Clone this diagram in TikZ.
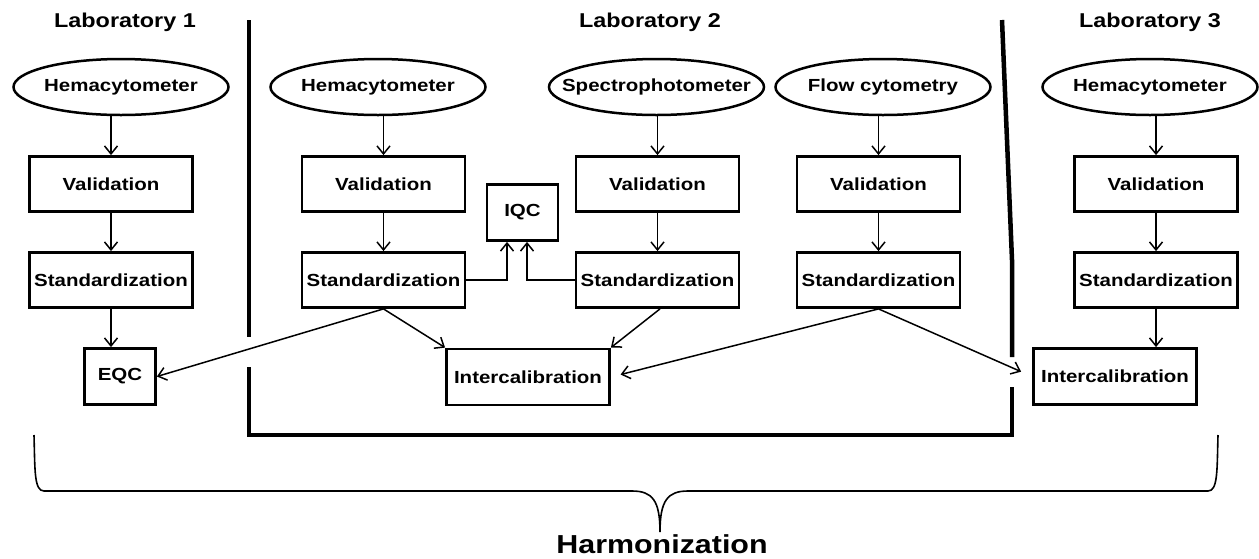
\documentclass[tikz,border=0pt]{standalone}
\usepackage{fontspec}
\setmainfont{Liberation Sans}[FakeStretch=1.17]
\usetikzlibrary{shapes.geometric,arrows.meta}
\begin{document}
\begin{tikzpicture}[x=1pt,y=-1pt,
  boxtext/.style={font=\bfseries\fontsize{17.5}{20}\selectfont},
  stepbox/.style={boxtext,draw,line width=2.8pt,inner sep=0pt,minimum width=163pt,minimum height=55pt},
  smallbox/.style={boxtext,draw,line width=2.8pt,inner sep=0pt,minimum width=71pt,minimum height=56pt},
  instr/.style={boxtext,ellipse,draw,line width=2.5pt,inner sep=0pt,minimum width=215pt,minimum height=56pt},
  labtitle/.style={font=\bfseries\fontsize{20}{24}\selectfont,anchor=base},
  conn/.style={line width=1.5pt,-{Straight Barb[length=8pt,width=13pt,line width=1.5pt]}},
  sepline/.style={line width=4.5pt},
  bracel/.style={line width=1.6pt}]
\useasboundingbox (0,0) rectangle (1259,558);
\fill[white] (0,0) rectangle (1259,558);

% titles
\node[labtitle] (t1) at (125,27) {Laboratory 1};
\node[labtitle] (t2) at (650,27) {Laboratory 2};
\node[labtitle] (t3) at (1150,27) {Laboratory 3};

% Laboratory 1
\node[instr] (hema1) at (121,87) {\makebox[0pt]{Hemacytometer}};
\node[stepbox] (val1) at (111,184) {Validation};
\node[stepbox] (std1) at (111,280) {Standardization};
\node[smallbox] (eqc) at (120,376.5) {EQC};

% Laboratory 2
\node[instr] (hema2) at (378,87) {\makebox[0pt]{Hemacytometer}};
\node[stepbox] (val2) at (383.5,184) {Validation};
\node[stepbox] (std2) at (383.5,280) {Standardization};

\node[instr] (spec) at (656.5,87) {\makebox[0pt]{Spectrophotometer}};
\node[stepbox] (val3) at (657.5,184) {Validation};
\node[stepbox] (std3) at (657.5,280) {Standardization};

\node[smallbox] (iqc) at (522.5,212.5) {IQC};

\node[instr] (flow) at (883,87) {\makebox[0pt]{Flow cytometry}};
\node[stepbox] (val4) at (878.5,184) {Validation};
\node[stepbox] (std4) at (878.5,280) {Standardization};

\node[stepbox,minimum height=56pt] (ic2) at (528,377) {Intercalibration};

% Laboratory 3
\node[instr] (hema3) at (1150,87) {\makebox[0pt]{Hemacytometer}};
\node[stepbox] (val5) at (1156,184) {Validation};
\node[stepbox] (std5) at (1156,280) {Standardization};
\node[stepbox,minimum height=56pt] (ic3) at (1115,376.5) {Intercalibration};

% vertical flows
\foreach \h/\v/\s in {hema1/val1/std1,hema2/val2/std2,spec/val3/std3,flow/val4/std4,hema3/val5/std5}{
  \draw[conn] (\v.north |- \h.south) -- (\v.north);
  \draw[conn] (\v.south) -- (\s.north);
}
\draw[conn] (std1.south) -- (std1.south |- eqc.north);
\draw[conn] (std5.south) -- (std5.south |- ic3.north);

% IQC
\draw[conn] (std2.east) -| ([xshift=-15.5pt]iqc.south);
\draw[conn] (std3.west) -| ([xshift=4.5pt]iqc.south);

% cross connections
\draw[conn] (std2.south) -- (eqc.east);
\draw[conn] (std2.south) -- (ic2.north west);
\draw[conn] ([xshift=2.5pt]std3.south) -- (ic2.north east);
\draw[conn,shorten >=10pt] (std4.south) -- (ic2.east);
\draw[conn,shorten >=12pt] (std4.south) -- (ic3.west);

% separators
\draw[sepline] (249,20) -- (249,337);
\draw[sepline] (249,367) -- (249,435) -- (1012,435) -- (1012,387);
\draw[sepline] (1012,357) -- (1012,260) -- (1002,20);

% brace
\draw[bracel] (34,435) .. controls (35,470) and (34,491) .. (44,491) -- (632,491)
  .. controls (652,491) and (660,500) .. (660,532)
  .. controls (660,500) and (668,491) .. (688,491) -- (1208,491)
  .. controls (1218,491) and (1217,470) .. (1218,435);
\node[font=\bfseries\fontsize{26}{30}\selectfont,anchor=base] (harm) at (662,553) {Harmonization};
\end{tikzpicture}
\end{document}
